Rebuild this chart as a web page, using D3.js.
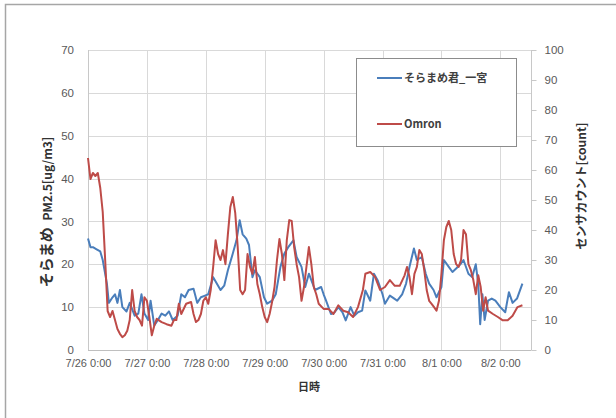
<!DOCTYPE html>
<html><head><meta charset="utf-8">
<script src="https://cdn.jsdelivr.net/npm/d3@7"></script>
<style>body{margin:0;background:#fff}svg{display:block}</style>
</head><body><svg id="c" width="616" height="418"></svg>
<script>
// x tick labels (one per day)
const dayLabels = ["7/26 0:00","7/27 0:00","7/28 0:00","7/29 0:00","7/30 0:00","7/31 0:00","8/1 0:00","8/2 0:00"];
const leftTicks = [0,10,20,30,40,50,60,70];
const rightTicks = [0,10,20,30,40,50,60,70,80,90,100];
const seriesNames = ["そらまめ君_一宮","Omron"];
// そらまめ PM2.5 [ug/m3] (left axis), hours since 7/26 0:00
const blueHours = [0,1,2,3.5,5,6,7.7,8.5,10,11,12,13,14,15.7,17,19,20.5,21.8,23,24.5,25.5,27,28.5,30,31.5,33,34.5,36.5,38,39.5,41,43,44.5,46,47.7,49,51,53,54,55.5,57,59,60.5,61.8,63,64.5,65.6,67,68,70,71.7,73,75,76.5,78.4,80,81.6,83.7,85,87,88.5,90,92.5,95,96,97,99,100.5,102,103.7,105,107,108.5,110,111.7,113,115,116.5,118,120,121,123,124.8,126,128,129.6,131,132.8,134,136,137.6,139,140.8,142,144,145,147,148.5,150,151.7,153,155,156.5,158,159,159.8,160.7,161.6,163,164.5,166,168,170,171.5,173,174.8,177];
const blueVals = [26,24,24,23.5,23,21,15.5,11,12.3,13,11,14,10,9,11,8,8.5,13,8.5,7,11.5,5.7,7,8.5,8,9,7,8,13,12.3,14,14.3,11,12.3,12.7,13,17,15,14,15,18.6,22.5,25.6,30.3,27,26,24.5,17,18.6,17,12.3,10.8,11.5,13,19.4,22.5,24,25.6,21.7,19.4,14.7,17.8,14,14.7,13,11.5,8.4,8.8,10,8.8,6.9,10,8,8.8,9.2,13.9,11.5,17.8,16.3,13,10.8,12.7,12,11.5,13,15.5,19.4,23.7,21,21.7,17.8,15.5,14,12.3,14.7,21,19.4,18.2,19,20,21,17.8,17,20,15.5,6,13,7,11.5,12,11.5,10,8.8,13.5,11,12,15.5];
// Omron sensor count (right axis)
const redHours = [0,1,2,3,4,5,6,7,8,9,10,11,12,13,14,15,16,17,18,19,20,21,22,23,24,25,26,27,28,30,32,34,35,36,37,38,40,42,43,44,45,46,47,48,49,50,51,52,53,54,55,56,57,58,59,60,61,62,63,64,65,66,67,68,69,70,71,72,73,74,75,76,77,78,79,80,81,82,83,84,85,86,87,88,89,90,91,92,93,94,96,98,100,102,104,106,108,110,112,113,115,117,119,121,123,125,127,129,130,131,132,133,134,135,136,137,138,139,140,141,142,143,144,145,146,147,148,149,150,151,152,153,154,155,156,157,158,159,160,161,162,163,165,167,169,171,173,175,177];
const redVals = [64,57,59,58,59,54,46,30,13,11,13,10,7,5.4,4.3,4.9,6.4,10,20,13,11,10,8.1,17.6,16.4,11,4.9,8.1,10.4,9.3,8.6,8.1,10,10,15.4,12,15.4,16,12,9.3,10,12,16.4,17.6,15.4,20,27.7,36.6,32,30,33.3,28.6,38.6,47.7,51,45.6,34.3,20,18.6,20,32,27.7,25.4,31,22,18.6,14.3,11,9.3,12,16,21,30,37,32,23.3,36.6,43.3,43,34.3,28.6,24.3,16.4,21,27.7,34.3,28.6,21,18.6,15.4,13.7,13.7,12,14.9,13.1,12.6,11,14.3,20,25.4,26,24.3,20,21,23.3,21.4,21.4,24.9,27.7,24.3,18.6,25.4,27.7,33.3,32,26.6,20,16.4,15.4,14.3,13.1,16.4,25.4,36.6,41,43,40,32,28.6,27.7,30,40,38.6,28.6,26.6,23.3,18.6,24.9,21,13.1,17.6,13.1,12,11,9.9,9.9,11.4,14.3,14.9];

const svg = d3.select("#c");
const L = 88, R = 531, T = 50, B = 350;
const x = d3.scaleLinear().domain([0, 180.5]).range([L, R]);
const yL = d3.scaleLinear().domain([0, 70]).range([B, T]);
const yR = d3.scaleLinear().domain([0, 100]).range([B, T]);
const numFont = "'Liberation Sans', Arial, sans-serif";
const jpFont = "'Noto Sans CJK JP', sans-serif";

// outer frame
svg.append("rect").attr("x",5.5).attr("y",4.5).attr("width",640).attr("height",440)
  .attr("fill","none").attr("stroke","#a6a6a6").attr("stroke-width",1.5);

// gridlines
const g = svg.append("g");
g.selectAll(".hg").data(leftTicks).join("line")
  .attr("x1",L).attr("x2",R).attr("y1",d=>Math.round(yL(d))+0.5).attr("y2",d=>Math.round(yL(d))+0.5)
  .attr("stroke","#d9d9d9");
g.selectAll(".vg").data(dayLabels).join("line")
  .attr("x1",(d,i)=>Math.round(x(i*24))+0.5).attr("x2",(d,i)=>Math.round(x(i*24))+0.5)
  .attr("y1",T).attr("y2",B).attr("stroke","#d9d9d9");
// plot edges
svg.append("line").attr("x1",L+0.5).attr("x2",L+0.5).attr("y1",T).attr("y2",B).attr("stroke","#c8c8c8");
svg.append("line").attr("x1",R+0.5).attr("x2",R+0.5).attr("y1",T).attr("y2",B+0.5).attr("stroke","#c8c8c8");
svg.append("line").attr("x1",L).attr("x2",R).attr("y1",B+0.5).attr("y2",B+0.5).attr("stroke","#bfbfbf");

// axes (labels)
const axL = d3.axisLeft(yL).tickValues(leftTicks).tickSize(0).tickPadding(14);
const axR = d3.axisRight(yR).tickValues(rightTicks).tickSize(5).tickPadding(8);
const gl = svg.append("g").attr("transform",`translate(${L},0)`).call(axL);
const gr = svg.append("g").attr("transform",`translate(${R+0.5},0)`).call(axR);
[gl,gr].forEach(a=>{
  a.select(".domain").remove();
  a.selectAll("text").attr("font-family",numFont).attr("font-size",11.5).attr("fill","#595959");
  a.selectAll("line").attr("stroke","#c8c8c8");
});
const axB = d3.axisBottom(x).tickValues(dayLabels.map((d,i)=>i*24)).tickFormat((d,i)=>dayLabels[i]).tickSize(0).tickPadding(9);
const gb = svg.append("g").attr("transform",`translate(0,${B})`).call(axB);
gb.select(".domain").remove();
gb.selectAll("text").attr("font-family",numFont).attr("font-size",11).attr("fill","#595959");

// series
const lineL = d3.line().x(d=>x(d[0])).y(d=>yL(d[1]));
const lineR = d3.line().x(d=>x(d[0])).y(d=>yR(d[1]));
svg.append("path").datum(blueHours.map((h,i)=>[h,blueVals[i]])).attr("d",lineL)
  .attr("fill","none").attr("stroke","#4a7ebb").attr("stroke-width",2).attr("stroke-linejoin","round");
svg.append("path").datum(redHours.map((h,i)=>[h,redVals[i]])).attr("d",lineR)
  .attr("fill","none").attr("stroke","#be4b48").attr("stroke-width",2).attr("stroke-linejoin","round");

// legend
const lg = svg.append("g");
lg.append("rect").attr("x",356.5).attr("y",58.5).attr("width",160).attr("height",88)
  .attr("fill","#fff").attr("stroke","#8c8c8c");
const colors = ["#4a7ebb","#be4b48"];
seriesNames.forEach((n,i)=>{
  const yy = 78 + i*46;
  lg.append("line").attr("x1",377).attr("x2",402).attr("y1",yy).attr("y2",yy).attr("stroke",colors[i]).attr("stroke-width",2);
  lg.append("text").attr("x",404).attr("y",yy+4).text(n).attr("font-family",jpFont)
    .attr("font-weight","bold").attr("font-size",11).attr("fill","#404040");
});

// axis titles
const lt = svg.append("text").attr("transform","translate(52,212) rotate(-90)").attr("text-anchor","middle")
  .attr("font-family",jpFont).attr("font-weight","bold").attr("fill","#333");
lt.append("tspan").text("そらまめ").attr("font-size",15);
lt.append("tspan").text(" PM2.5[ug/m3]").attr("font-size",12).attr("dx",4);
svg.append("text").attr("transform","translate(586,186) rotate(-90)").attr("text-anchor","middle")
  .attr("font-family",jpFont).attr("font-weight","bold").attr("font-size",12).attr("fill","#333")
  .text("センサカウント[count]");
svg.append("text").attr("x",309).attr("y",391).attr("text-anchor","middle")
  .attr("font-family",jpFont).attr("font-weight","bold").attr("font-size",11).attr("fill","#333").text("日時");
</script></body></html>
